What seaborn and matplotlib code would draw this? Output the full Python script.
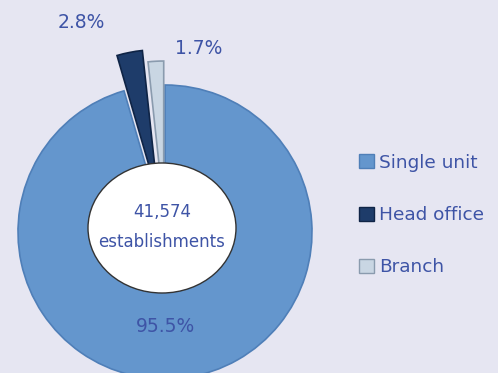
import matplotlib
matplotlib.use("Agg")
import matplotlib.pyplot as plt
from matplotlib.patches import Ellipse, Patch
import seaborn as sns

# Establishment types and their shares (%)
categories = ["Single unit", "Head office", "Branch"]
shares = [95.5, 2.8, 1.7]
total_establishments = 41574

slice_colors = ["#6496CD", "#1E3C6A", "#C9D6E3"]
edge_colors = ["#4F7FB8", "#0F2446", "#8A9BAE"]
bg = "#E6E6F2"
txt = "#3E54A6"

sns.set_theme(style="white")
plt.rcParams["font.family"] = ["DejaVu Sans"]

W, H = 498, 373
fig = plt.figure(figsize=(W / 100, H / 100), dpi=100, facecolor=bg)
ax = fig.add_axes([0, 0, 1, 1])
ax.set_facecolor(bg)

# Pie drawn in pixel-sized data units; explode offsets are in the same units
cx, cy, r = 165, H - 232, 147
explode = [0.0, 36, 24]
wedges, _ = ax.pie(
    shares,
    colors=slice_colors,
    explode=explode,
    startangle=90,
    counterclock=False,
    center=(cx, cy),
    radius=r,
    frame=True,
    wedgeprops=dict(linewidth=1.2),
)
for w, ec in zip(wedges, edge_colors):
    w.set_edgecolor(ec)

# Hub with the total count
ax.add_patch(Ellipse((162, H - 228), 148, 130, facecolor="white",
                     edgecolor="#333333", linewidth=1.0, zorder=5))
ax.text(162, H - 212, f"{total_establishments:,}", ha="center", va="center",
        fontsize=12, color=txt, zorder=6)
ax.text(162, H - 242, "establishments", ha="center", va="center",
        fontsize=12, color=txt, zorder=6)

# Share labels
label_pos = [(165, H - 327), (81, H - 22), (199, H - 48)]
for (x, y), s in zip(label_pos, shares):
    ax.text(x, y, f"{s}%", ha="center", va="center", fontsize=13.5,
            color=txt, zorder=6)

ax.set_xlim(0, W)
ax.set_ylim(0, H)
ax.set_aspect("equal")
ax.axis("off")

handles = [Patch(facecolor=c, edgecolor=e, linewidth=1.0)
           for c, e in zip(slice_colors, edge_colors)]
leg = fig.legend(handles, categories, loc="center left",
                 bbox_to_anchor=(0.702, 1 - 215 / H), frameon=False,
                 fontsize=13.3, handlelength=0.8, handleheight=0.8,
                 handletextpad=0.3, labelspacing=1.85, borderpad=0)
for t in leg.get_texts():
    t.set_color(txt)

fig.savefig("out.png", dpi=100, facecolor=bg)
